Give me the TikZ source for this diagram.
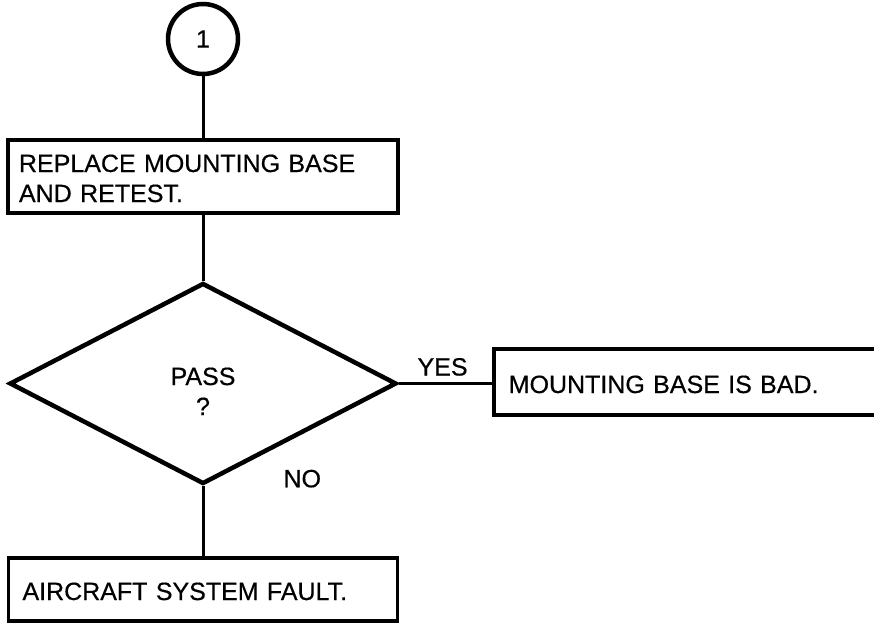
\documentclass[tikz,border=0pt]{standalone}
\usepackage{fontspec}
\setmainfont{Liberation Sans}[WordSpace=1.6, FakeBold=0.5]
\usetikzlibrary{shapes.geometric}
\begin{document}
\begin{tikzpicture}[x=1pt,y=-1pt,
  every node/.style={font=\fontsize{25}{30}\selectfont},
  stepbox/.style={draw, rectangle, line width=3.5pt, inner ysep=0pt, align=left},
  decision/.style={draw, diamond, line width=4.5pt, inner sep=0pt, align=center,
    text width=70pt, minimum width=387pt, minimum height=201pt},
  pagecircle/.style={draw, circle, line width=4.5pt, minimum size=70pt, inner sep=0pt},
  connector/.style={line width=3pt},
  branch/.style={inner sep=0pt}]
\clip (0,0) rectangle (874,624);

% off-page connector and the steps of the check
\node[pagecircle] (start) at (203,39) {1};
\node[stepbox, text width=368pt, inner xsep=11pt, minimum height=73pt,
      text height=20pt, text depth=29pt] (replace) at (203,176.5)
      {REPLACE MOUNTING BASE\\AND RETEST.};
\node[decision, text height=17pt, text depth=14pt] (pass) at (203,383.5) {PASS\\?};
\node[stepbox, anchor=west, text width=390pt, inner xsep=15pt, minimum height=66pt,
      text height=22pt, text depth=0pt] (bad) at (492,382) {MOUNTING BASE IS BAD.};
\node[stepbox, text width=361pt, inner xsep=14pt, minimum height=63pt,
      text height=21pt, text depth=0pt] (fault) at (203,589.5) {AIRCRAFT SYSTEM FAULT.};

% connectors
\draw[connector] (start) -- (replace);
\draw[connector] (replace) -- (pass);
\draw[connector] (pass.east) -- node (yes) [branch, pos=0.47, anchor=base, yshift=8pt] {YES}
      (pass.east -| bad.west);
\draw[connector] (pass.south) -- node (no) [branch, pos=0, anchor=base west, xshift=79pt, yshift=-1pt] {NO}
      (fault);
\end{tikzpicture}
\end{document}
